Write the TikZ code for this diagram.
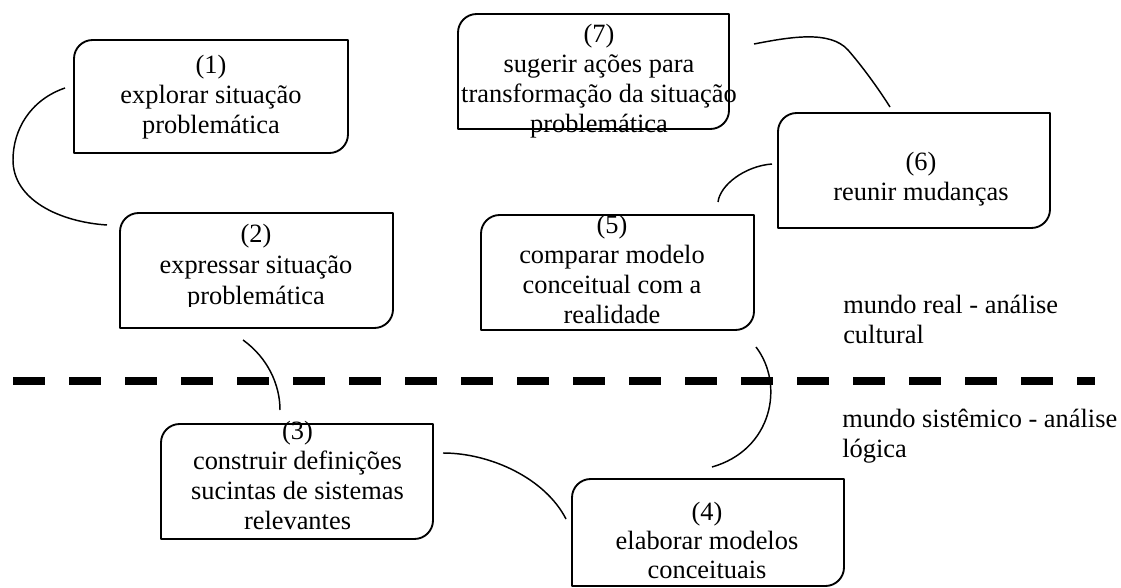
\documentclass[tikz,border=0pt]{standalone}
\usepackage{fontspec}
\setmainfont{Liberation Serif}
\newcommand\mystrut{\rule{0pt}{20pt}}
\newcommand\diagframe[1]{\draw[boxline] (#1.south west) -- ([yshift=-14pt]#1.north west) to[out=90,in=180] ([xshift=14pt]#1.north west) -- (#1.north east) -- ([yshift=14pt]#1.south east) to[out=-90,in=0] ([xshift=-14pt]#1.south east) -- cycle;}
\begin{document}
\begin{tikzpicture}[x=0.75pt,y=-0.75pt,
  boxn/.style 2 args={inner sep=0pt, outer sep=0pt, minimum width=#1*0.75pt, minimum height=#2*0.75pt},
  boxline/.style={line width=1.4pt, line join=round},
  txt/.style={inner sep=0pt, anchor=north, align=center, font=\fontsize{19.8pt}{22.5pt}\selectfont},
  lbl/.style={inner sep=0pt, anchor=north west, align=left, font=\fontsize{19.8pt}{23pt}\selectfont},
  conn/.style={line width=1.1pt},
  divider/.style={line width=6pt, dash pattern=on 24pt off 18pt}]
\useasboundingbox (0,0) rectangle (1121,588);

% boxes
\node[boxn={274}{113}] (b1) at (211,96.5) {};
\node[boxn={273}{115}] (b2) at (256.5,270.5) {};
\node[boxn={272}{115}] (b3) at (297,481.5) {};
\node[boxn={272}{107}] (b4) at (708,532.5) {};
\node[boxn={273}{115}] (b5) at (617.5,272.5) {};
\node[boxn={272}{115}] (b6) at (914,170.5) {};
\node[boxn={271}{115}] (b7) at (593.5,71.5) {};
\foreach \b in {b1,b2,b3,b4,b5,b6,b7} {\diagframe{\b}}

% texts (anchor y = first baseline - 26.67)
\node[txt] (t1) at (211,46.3) {\mystrut(1)\\explorar situação\\problemática};
\begin{scope}
\clip (120,213) rectangle (393,306);
\node[txt, font=\fontsize{19.8pt}{23.25pt}\selectfont] (t2) at (256,215.8) {\mystrut(2)\\expressar situação\\problemática};
\end{scope}
\node[txt] (t3) at (297.5,412.3) {\mystrut(3)\\construir definições\\sucintas de sistemas\\relevantes};
\node[txt, font=\fontsize{19.8pt}{21.75pt}\selectfont] (t4) at (707,493.3) {\mystrut(4)\\elaborar modelos\\conceituais};
\node[txt] (t5) at (612,206.3) {\mystrut(5)\\comparar modelo\\conceitual com a\\realidade};
\node[txt] (t6) at (921,143.3) {\mystrut(6)\\reunir mudanças};
\node[txt] (t7) at (599,15.3) {\mystrut(7)\\sugerir ações para\\transformação da situação\\problemática};

% side labels
\node[lbl] (l1) at (843,286.3) {\mystrut mundo real - análise\\cultural};
\node[lbl] (l2) at (842,400.3) {\mystrut mundo sistêmico - análise\\lógica};

% divider
\coordinate (dl) at (13,380.7);
\coordinate (dr) at (1095,380.7);
\draw[divider] (dl) -- (dr);

% connector ends
\coordinate (c1a) at (65,88);
\coordinate (c1b) at (107,225);
\coordinate (c2a) at (243,340);
\coordinate (c2b) at (280,410);
\coordinate (c3a) at (443,453);
\coordinate (c3b) at (566,519);
\coordinate (c4a) at (712,467);
\coordinate (c4b) at (756,347);
\coordinate (c5a) at (718,202);
\coordinate (c5b) at (772,164);
\coordinate (c6a) at (890,107);
\coordinate (c6b) at (754,44);

\draw[conn] (c1a) .. controls (30,100) and (13,130) .. (13,160) .. controls (13,200) and (60,222) .. (c1b);
\draw[conn] (c2a) .. controls (268,358) and (280,385) .. (c2b);
\draw[conn] (c3a) .. controls (490,453) and (545,478) .. (c3b);
\draw[conn] (c4b) .. controls (785,385) and (772,450) .. (c4a);
\draw[conn] (c5b) .. controls (745,166) and (720,185) .. (c5a);
\draw[conn] (c6b) .. controls (790,37) and (830,30) .. (848,50) .. controls (862,66) and (878,88) .. (c6a);
\end{tikzpicture}
\end{document}
